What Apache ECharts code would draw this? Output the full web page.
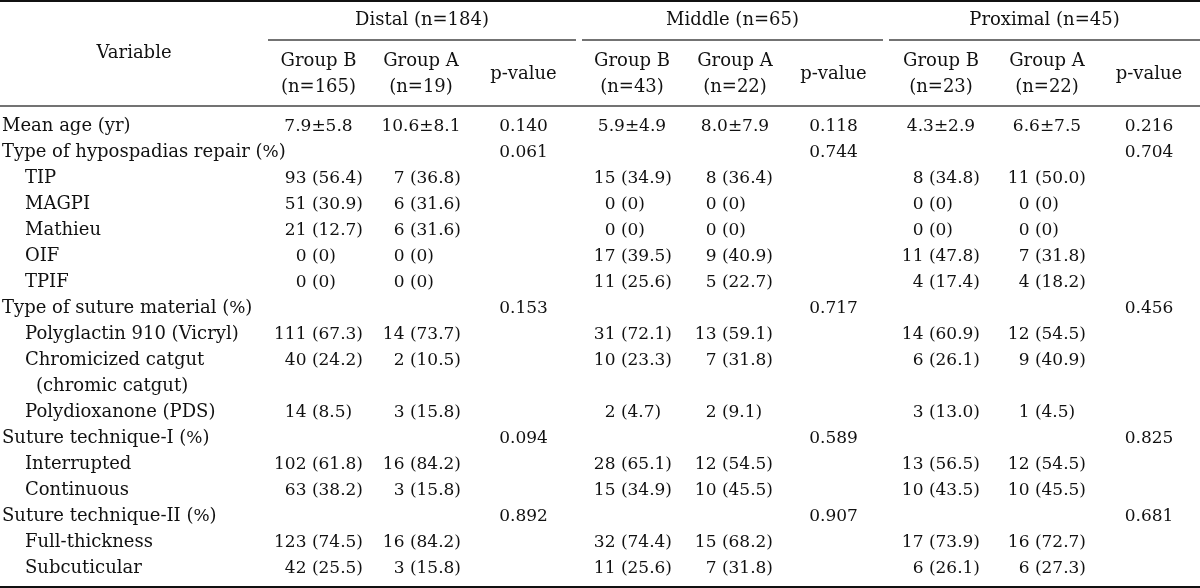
<!DOCTYPE html>
<html>
<head>
<meta charset="utf-8">
<script src="https://cdn.jsdelivr.net/npm/echarts@6/dist/echarts.min.js"></script>
<style>html,body{margin:0;padding:0;background:#fff;}#c{width:1200px;height:588px;}</style>
</head>
<body>
<div id="c"></div>
<script>
// ---------- DATA ----------
const rowLabels = ['Mean age (yr)', 'Type of hypospadias repair (%)', 'TIP', 'MAGPI', 'Mathieu', 'OIF', 'TPIF',
  'Type of suture material (%)', 'Polyglactin 910 (Vicryl)', 'Chromicized catgut', '(chromic catgut)',
  'Polydioxanone (PDS)', 'Suture technique-I (%)', 'Interrupted', 'Continuous', 'Suture technique-II (%)',
  'Full-thickness', 'Subcuticular'];
const rowLevel = [0, 0, 1, 1, 1, 1, 1, 0, 1, 1, 2, 1, 0, 1, 1, 0, 1, 1];

const groupTitles = ['Distal (n=184)', 'Middle (n=65)', 'Proximal (n=45)'];
const subHeads = [['Group B', '(n=165)'], ['Group A', '(n=19)'], ['p-value'],
                  ['Group B', '(n=43)'], ['Group A', '(n=22)'], ['p-value'],
                  ['Group B', '(n=23)'], ['Group A', '(n=22)'], ['p-value']];
const varHeader = 'Variable';

const distalB = ['7.9±5.8', null, '93 (56.4)', '51 (30.9)', '21 (12.7)', '0 (0)', '0 (0)', null, '111 (67.3)', '40 (24.2)', null, '14 (8.5)', null, '102 (61.8)', '63 (38.2)', null, '123 (74.5)', '42 (25.5)'];
const distalA = ['10.6±8.1', null, '7 (36.8)', '6 (31.6)', '6 (31.6)', '0 (0)', '0 (0)', null, '14 (73.7)', '2 (10.5)', null, '3 (15.8)', null, '16 (84.2)', '3 (15.8)', null, '16 (84.2)', '3 (15.8)'];
const distalP = ['0.140', '0.061', null, null, null, null, null, '0.153', null, null, null, null, '0.094', null, null, '0.892', null, null];
const middleB = ['5.9±4.9', null, '15 (34.9)', '0 (0)', '0 (0)', '17 (39.5)', '11 (25.6)', null, '31 (72.1)', '10 (23.3)', null, '2 (4.7)', null, '28 (65.1)', '15 (34.9)', null, '32 (74.4)', '11 (25.6)'];
const middleA = ['8.0±7.9', null, '8 (36.4)', '0 (0)', '0 (0)', '9 (40.9)', '5 (22.7)', null, '13 (59.1)', '7 (31.8)', null, '2 (9.1)', null, '12 (54.5)', '10 (45.5)', null, '15 (68.2)', '7 (31.8)'];
const middleP = ['0.118', '0.744', null, null, null, null, null, '0.717', null, null, null, null, '0.589', null, null, '0.907', null, null];
const proxB = ['4.3±2.9', null, '8 (34.8)', '0 (0)', '0 (0)', '11 (47.8)', '4 (17.4)', null, '14 (60.9)', '6 (26.1)', null, '3 (13.0)', null, '13 (56.5)', '10 (43.5)', null, '17 (73.9)', '6 (26.1)'];
const proxA = ['6.6±7.5', null, '11 (50.0)', '0 (0)', '0 (0)', '7 (31.8)', '4 (18.2)', null, '12 (54.5)', '9 (40.9)', null, '1 (4.5)', null, '12 (54.5)', '10 (45.5)', null, '16 (72.7)', '6 (27.3)'];
const proxP = ['0.216', '0.704', null, null, null, null, null, '0.456', null, null, null, null, '0.825', null, null, '0.681', null, null];

const columns = [distalB, distalA, distalP, middleB, middleA, middleP, proxB, proxA, proxP];

// ---------- LAYOUT (positions / styles) ----------
const W = 1200, H = 588;
const FONT = 'DejaVu Serif';
const FS_NUM = 17;     // numeric cells
const FS_TXT = 18;     // word cells / headers
const FS_PCT = 17;     // the % sign
const COLOR = '#111';
const colCenter = [318.5, 421, 523.5, 632, 735, 833.5, 941, 1047, 1149];
const colRight  = [363, 461, null, 672, 773, null, 980, 1086, null];
const groupSpan = [[268, 576], [582, 883], [889, 1200]];
const indentX = [2, 25, 36];
const bodyTop = 113.7, rowH = 26;
const headY = {title: 20, line: 40, l1: 61, l2: 87, mid: 74, variable: 53, rule: 106, top: 1, bottom: 587};

const numText = {fontFamily: FONT, fontSize: FS_NUM, color: COLOR, opacity: 1};
const wordText = {fontFamily: FONT, fontSize: FS_TXT, color: COLOR, opacity: 1};

function padFor(cell) {
  const m = cell.match(/^(\d+) \(([\d.]+)\)$/);
  if (!m) return '';
  const p = m[2];
  const intLen = p.split('.')[0].length;
  return '0'.repeat(Math.max(0, 2 - intLen)) + (p.indexOf('.') >= 0 ? '' : '.0');
}

const series = [];
const common = {type: 'scatter', xAxisIndex: 0, yAxisIndex: 0, symbolSize: 0, silent: true, itemStyle: {opacity: 1}};
// variable column, one series per indent level
[0, 1, 2].forEach(function (lvl) {
  const data = [];
  rowLabels.forEach(function (lab, i) { if (rowLevel[i] === lvl) data.push({value: [indentX[lvl], i], name: lab}); });
  series.push(Object.assign({}, common, {
    data: data,
    label: Object.assign({show: true, position: 'right', distance: 0,
      formatter: function (p) { return p.name.replace('%', '{pct|%}'); },
      rich: {pct: {fontFamily: FONT, fontSize: FS_PCT, color: COLOR}}}, wordText)
  }));
});
// value columns
columns.forEach(function (col, c) {
  const centered = [], righted = [];
  col.forEach(function (cell, i) {
    if (cell == null) return;
    if (colRight[c] != null && /\(/.test(cell)) righted.push({value: [colRight[c], i], name: cell});
    else centered.push({value: [colCenter[c], i], name: cell});
  });
  series.push(Object.assign({}, common, {
    data: centered,
    label: Object.assign({show: true, position: 'inside', formatter: function (p) { return p.name; }}, numText)
  }));
  if (righted.length) series.push(Object.assign({}, common, {
    data: righted,
    label: Object.assign({show: true, position: 'left', distance: 0,
      formatter: function (p) { const pad = padFor(p.name); return p.name + (pad ? '{pad|' + pad + '}' : ''); },
      rich: {pad: {fontFamily: FONT, fontSize: FS_NUM, color: 'rgba(0,0,0,0)'}}}, numText)
  }));
});

// header graphics
const graphic = [];
function txt(x, y, s, align) {
  graphic.push({type: 'text', x: x, y: y, silent: true,
    style: {text: s, font: FS_TXT + 'px "' + FONT + '"', fill: COLOR, textAlign: align || 'center', textVerticalAlign: 'middle'}});
}
function hline(x1, x2, y, w, color) {
  graphic.push({type: 'line', silent: true, shape: {x1: x1, y1: y, x2: x2, y2: y}, style: {stroke: color, lineWidth: w}});
}
txt(134, headY.variable, varHeader);
groupTitles.forEach(function (t, g) {
  txt((groupSpan[g][0] + groupSpan[g][1]) / 2, headY.title, t);
  hline(groupSpan[g][0], groupSpan[g][1], headY.line, 1.4, '#444');
});
subHeads.forEach(function (h, c) {
  if (h.length === 2) { txt(colCenter[c], headY.l1, h[0]); txt(colCenter[c], headY.l2, h[1]); }
  else txt(colCenter[c], headY.mid, h[0]);
});
hline(0, W, headY.top, 2, '#111');
hline(0, W, headY.rule, 1.6, '#444');
hline(0, W, headY.bottom, 2, '#111');

const chart = echarts.init(document.getElementById('c'), null, {renderer: 'canvas'});
chart.setOption({
  animation: false,
  backgroundColor: '#fff',
  grid: [{left: 0, right: 0, top: bodyTop, height: rowH * rowLabels.length}],
  xAxis: [{type: 'value', min: 0, max: W, show: false}],
  yAxis: [{type: 'category', inverse: true, show: false, data: rowLabels.map(function (_, i) { return i; })}],
  series: series,
  graphic: graphic
});
</script>
</body>
</html>
